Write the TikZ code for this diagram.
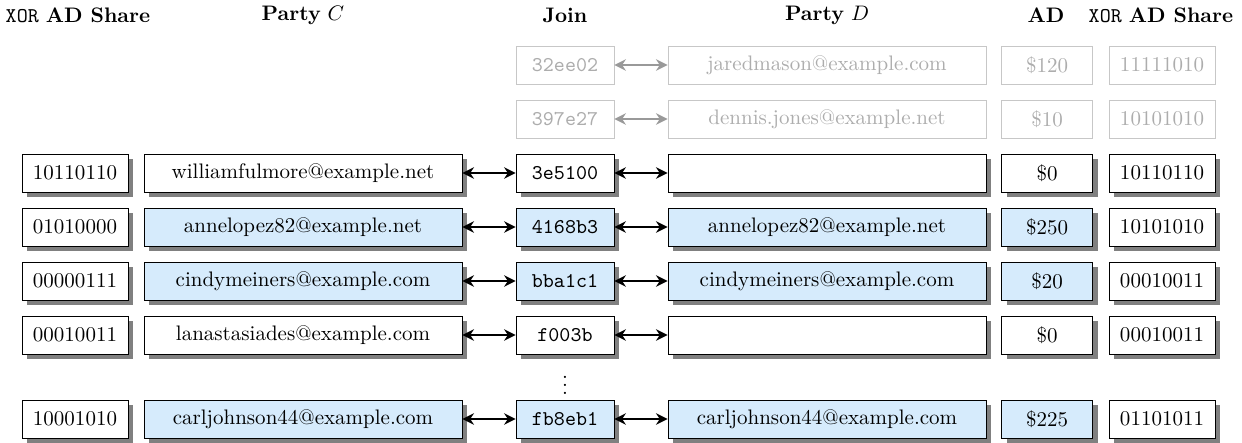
\documentclass[tikz,border=0pt]{standalone}
\usepackage{tikz}
\usetikzlibrary{arrows.meta, shadows, positioning}
\definecolor{hlblue}{RGB}{214,235,252}

\begin{document}
\begin{tikzpicture}[x=0.476pt, y=-0.476pt, >={Stealth[length=5.5pt, width=5.5pt, inset=1.8pt]}]
\tikzset{box/.style={draw, fill=white, inner sep=0pt, minimum height=18.1pt},
  shade/.style={drop shadow={shadow xshift=2.4pt, shadow yshift=-2.4pt, fill=black!50, opacity=1}},
  ghost/.style={box, draw=black!22, text=black!32},
  share/.style={minimum width=50.5pt},
  email/.style={minimum width=151.4pt},
  key/.style={minimum width=46.6pt, font=\ttfamily},
  amount/.style={minimum width=43.3pt}}
  \useasboundingbox (0,0) rectangle (1242,442);

  % column heads
  \node (H0) at (78,15) {\texttt{XOR} \textbf{AD Share}};
  \node (H1) at (303,15) {\textbf{Party} $C$};
  \node (H2) at (565,15) {\textbf{Join}};
  \node (H3) at (827,15) {\textbf{Party} $D$};
  \node (H4) at (1046,15) {\textbf{AD}};
  \node (H5) at (1161,15) {\texttt{XOR} \textbf{AD Share}};

  % rows only party D holds
  \foreach \y/\j/\d/\a/\t [count=\i] in {
    65/32ee02/jaredmason@example.com/\$120/11111010,
    119/397e27/dennis.jones@example.net/\$10/10101010} {
    \node [ghost, key] (Jg\i) at (565,\y) {\j};
    \node [ghost, email] (Dg\i) at (827,\y) {\d};
    \node [ghost, amount] (Ag\i) at (1047,\y) {\a};
    \node [ghost, share] (Sg\i) at (1162,\y) {\t};
    \draw [<->, semithick, black!40] (Jg\i) -- (Dg\i);
  }

  % joined rows
  \foreach \y/\s/\c/\j/\d/\a/\t/\f [count=\i] in {
    173/10110110/williamfulmore@example.net/3e5100//\$0/10110110/white,
    227/01010000/annelopez82@example.net/4168b3/annelopez82@example.net/\$250/10101010/hlblue,
    281/00000111/cindymeiners@example.com/bba1c1/cindymeiners@example.com/\$20/00010011/hlblue,
    335/00010011/lanastasiades@example.com/f003b//\$0/00010011/white,
    419/10001010/carljohnson44@example.com/fb8eb1/carljohnson44@example.com/\$225/01101011/hlblue} {
    \node [box, shade, share] (X\i) at (75,\y) {\s};
    \node [box, shade, email, fill=\f] (C\i) at (303,\y) {\c};
    \node [box, shade, key, fill=\f] (J\i) at (565,\y) {\j};
    \node [box, shade, email, fill=\f] (D\i) at (827,\y) {\d};
    \node [box, shade, amount, fill=\f] (A\i) at (1047,\y) {\a};
    \node [box, shade, share] (S\i) at (1162,\y) {\t};
    \draw [<->, semithick] (C\i) -- (J\i);
    \draw [<->, semithick] (J\i) -- (D\i);
  }

  \node (dots) at (565,379) {$\vdots$};
\end{tikzpicture}
\end{document}
